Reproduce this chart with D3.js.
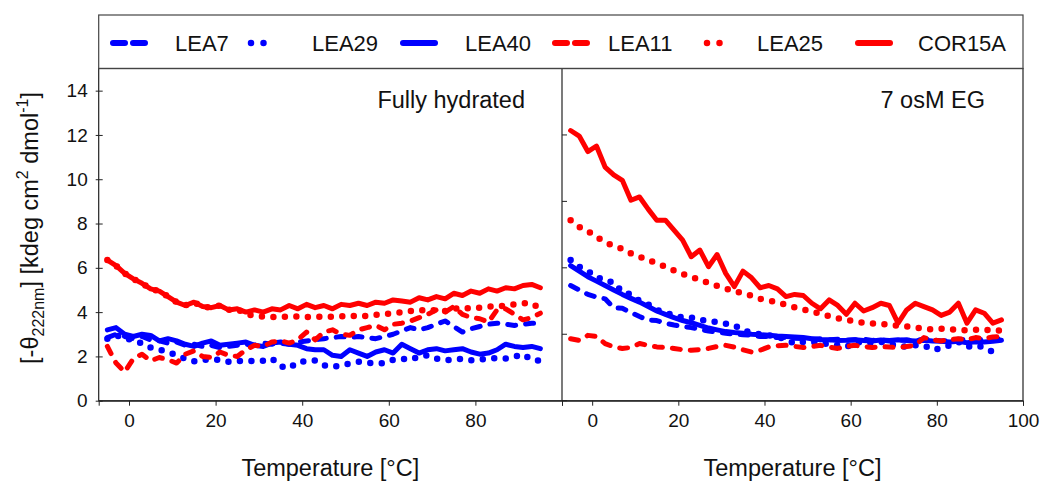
<!DOCTYPE html>
<html>
<head>
<meta charset="utf-8">
<script src="https://cdn.jsdelivr.net/npm/d3@7"></script>
<style>
  body { margin: 0; background: #fff; }
  svg { font-family: "Liberation Sans", Arial, sans-serif; }
</style>
</head>
<body>
<svg id="chart" width="1041" height="482"></svg>
<script>
// temperatures (°C), 2 degree steps
const temps = d3.range(-5, 96, 2);

// Fully hydrated panel
const hydLEA7 = [2.85,3.0,2.9,2.8,2.9,2.75,2.7,2.6,2.65,2.5,2.55,2.45,2.5,2.4,2.45,2.5,2.55,2.5,2.6,2.55,2.6,2.55,2.65,2.7,2.75,2.8,2.85,2.9,2.85,2.9,2.85,2.8,2.9,3.0,3.15,3.3,3.2,3.3,3.45,3.6,3.35,3.1,3.25,3.35,3.45,3.5,3.45,3.4,3.45,3.5,3.5];
const hydLEA29 = [2.8,2.95,2.85,2.7,2.6,2.4,2.3,2.2,2.05,1.9,1.78,1.85,1.86,1.85,1.76,1.79,1.8,1.79,1.8,1.9,1.55,1.46,1.75,1.78,1.82,1.6,1.53,1.6,1.68,1.76,1.72,1.68,1.7,1.85,1.9,1.85,2.0,2.05,1.9,1.83,1.85,1.9,1.83,1.85,1.9,1.92,1.9,1.98,2.1,1.85,1.8];
const hydLEA40 = [3.2,3.3,3.0,2.9,3.0,2.95,2.7,2.8,2.7,2.55,2.45,2.6,2.7,2.5,2.55,2.6,2.65,2.5,2.45,2.6,2.65,2.55,2.5,2.35,2.3,2.3,2.05,2.0,2.3,2.15,2.0,2.2,2.3,2.15,2.55,2.35,2.15,2.3,2.35,2.25,2.3,2.35,2.2,2.1,2.15,2.3,2.55,2.45,2.4,2.45,2.35];
const hydLEA11 = [2.45,1.7,1.3,1.9,2.1,1.8,1.95,1.85,1.7,2.1,2.25,2.0,1.95,2.2,2.05,2.0,2.3,2.5,2.45,2.65,2.7,2.6,2.75,3.1,2.75,3.1,3.2,3.0,2.95,3.2,3.3,3.4,3.2,3.45,3.5,3.6,3.75,3.9,4.1,4.0,4.25,3.9,3.75,3.7,3.55,4.1,4.15,3.9,3.65,3.75,3.95];
const hydLEA25 = [6.35,6.1,5.75,5.5,5.3,5.05,4.95,4.7,4.45,4.3,4.45,4.25,4.2,4.3,4.1,4.15,3.9,3.85,3.8,3.78,3.8,3.78,3.8,3.78,3.8,3.78,3.8,3.82,3.8,3.85,3.82,3.88,3.9,3.95,4.0,4.05,4.1,4.05,4.1,4.05,4.15,4.2,4.15,4.2,4.25,4.25,4.3,4.35,4.4,4.4,4.15];
const hydCOR15A = [6.35,6.1,5.75,5.5,5.3,5.05,4.95,4.7,4.45,4.3,4.45,4.25,4.2,4.3,4.1,4.15,4.0,4.1,4.0,4.15,4.1,4.3,4.15,4.35,4.2,4.3,4.15,4.35,4.3,4.4,4.3,4.45,4.4,4.55,4.5,4.45,4.65,4.55,4.7,4.6,4.85,4.75,4.95,4.85,5.05,4.95,5.1,5.05,5.2,5.25,5.1];

// 7 osM EG panel
const egLEA7 = [5.2,5.0,4.8,4.68,4.6,4.2,4.17,3.98,3.8,3.64,3.62,3.5,3.42,3.35,3.3,3.22,3.15,3.1,3.05,3.0,2.98,2.95,2.9,2.9,2.85,2.85,2.82,2.8,2.78,2.8,2.75,2.78,2.72,2.75,2.78,2.72,2.75,2.7,2.72,2.75,2.7,2.8,2.75,2.7,2.72,2.78,2.75,2.7,2.8,2.75,2.8];
const egLEA29 = [6.35,6.05,5.85,5.6,5.4,5.35,4.9,4.8,4.5,4.35,4.1,3.98,3.85,3.75,3.75,3.65,3.6,3.55,3.48,3.4,3.18,3.08,3.0,2.95,2.9,2.75,2.58,2.65,2.66,2.6,2.55,2.5,2.43,2.62,2.66,2.6,2.66,2.55,2.5,2.43,2.5,2.5,2.3,2.36,2.5,2.66,2.43,2.5,2.4,2.2,2.2];
const egLEA40 = [6.1,5.85,5.6,5.4,5.2,5.0,4.8,4.62,4.45,4.25,4.05,3.9,3.75,3.62,3.52,3.4,3.28,3.2,3.12,3.08,3.05,3.0,2.98,2.95,2.92,2.9,2.88,2.85,2.8,2.75,2.75,2.72,2.73,2.75,2.72,2.7,2.74,2.72,2.75,2.72,2.7,2.73,2.7,2.68,2.65,2.68,2.62,2.66,2.65,2.68,2.73];
const egLEA11 = [2.8,2.72,2.95,2.9,2.58,2.43,2.36,2.4,2.58,2.5,2.43,2.4,2.36,2.3,2.28,2.31,2.36,2.45,2.5,2.42,2.3,2.2,2.28,2.43,2.48,2.5,2.45,2.4,2.45,2.5,2.42,2.36,2.45,2.5,2.45,2.4,2.45,2.42,2.4,2.45,2.5,2.85,2.75,2.7,2.75,2.8,2.75,2.85,2.8,2.88,2.9];
const egLEA25 = [8.15,7.85,7.65,7.4,7.15,7.0,6.85,6.65,6.5,6.35,6.2,6.05,5.88,5.72,5.6,5.45,5.32,5.18,5.06,4.95,4.84,4.74,4.6,4.52,4.45,4.32,4.22,4.12,4.02,3.92,3.82,3.72,3.65,3.58,3.52,3.49,3.48,3.42,3.38,3.35,3.3,3.25,3.22,3.25,3.22,3.2,3.18,3.2,3.18,3.22,3.15];
const egCOR15A = [12.2,11.95,11.25,11.5,10.55,10.2,9.95,9.05,9.2,8.65,8.15,8.15,7.7,7.25,6.5,6.8,6.05,6.6,5.75,5.15,5.85,5.55,5.1,5.2,5.05,4.7,4.8,4.75,4.4,4.15,4.55,4.3,3.9,4.4,4.05,4.2,4.4,4.3,3.5,4.1,4.4,4.25,4.1,3.85,4.0,4.4,3.5,4.1,3.95,3.5,3.65];

const seriesNames = ["LEA7", "LEA29", "LEA40", "LEA11", "LEA25", "COR15A"];
const seriesColors = ["#0000ff", "#0000ff", "#0000ff", "#ff0000", "#ff0000", "#ff0000"];
const seriesStyles = ["dash", "dot", "solid", "dash", "dot", "solid"];
const panelTitles = ["Fully hydrated", "7 osM EG"];
const panelData = [
  [hydLEA7, hydLEA29, hydLEA40, hydLEA11, hydLEA25, hydCOR15A],
  [egLEA7, egLEA29, egLEA40, egLEA11, egLEA25, egCOR15A]
];
const leftYTicks = [0, 2, 4, 6, 8, 10, 12, 14];
const rightYTicks = [0, 3, 6, 9, 12, 15];
const leftXTicks = [0, 20, 40, 60, 80];
const rightXTicks = [0, 20, 40, 60, 80, 100];

const svg = d3.select("#chart");
const plotTop = 68.5, plotBottom = 400.7;
const panels = [[98.7, 562], [562, 1023]];
const axisColor = "#222";

const y = d3.scaleLinear().domain([0, 15]).range([plotBottom, plotTop]);

// dash patterns
function applyStyle(sel, style, color) {
  sel.attr("fill", "none").attr("stroke", color)
    .attr("stroke-linejoin", "round");
  if (style === "dot") {
    sel.attr("stroke-width", 6.5).attr("stroke-linecap", "round")
      .attr("stroke-dasharray", "0 11.5");
  } else if (style === "dash") {
    sel.attr("stroke-width", 5).attr("stroke-linecap", "round")
      .attr("stroke-dasharray", "8 10");
  } else {
    sel.attr("stroke-width", 5).attr("stroke-linecap", "round");
  }
  return sel;
}

panels.forEach(([x0, x1], p) => {
  const x = d3.scaleLinear().domain([-7, 100]).range([x0, x1]);
  const g = svg.append("g");

  // lines
  const line = d3.line()
    .x((d, i) => x(temps[i]))
    .y(d => y(d));
  panelData[p].forEach((vals, s) => {
    applyStyle(g.append("path").datum(vals).attr("d", line), seriesStyles[s], seriesColors[s]);
  });

  // x axis
  const xAxis = g.append("g")
    .attr("transform", `translate(0,${plotBottom})`)
    .call(d3.axisBottom(x).tickValues(p === 0 ? leftXTicks : rightXTicks).tickSizeOuter(0).tickSize(5).tickPadding(8));
  xAxis.select(".domain").attr("stroke", axisColor);
  xAxis.selectAll("line").attr("stroke", axisColor);
  xAxis.selectAll("text").style("font-size", "19px").attr("fill", "#111");

  // x title
  g.append("text")
    .attr("x", (x0 + x1) / 2)
    .attr("y", 476)
    .attr("text-anchor", "middle")
    .style("font-size", "23.5px")
    .attr("fill", "#111")
    .text("Temperature [°C]");

  // panel label
  g.append("text")
    .attr("x", p === 0 ? 525 : 985)
    .attr("y", 108)
    .attr("text-anchor", "end")
    .style("font-size", "23.5px")
    .attr("fill", "#111")
    .text(panelTitles[p]);

  // y ticks
  if (p === 0) {
    const yAxis = g.append("g")
      .attr("transform", `translate(${x0},0)`)
      .call(d3.axisLeft(y).tickValues(leftYTicks).tickSize(3).tickSizeOuter(0).tickPadding(8));
    yAxis.select(".domain").remove();
    yAxis.selectAll("line").attr("x2", 4).attr("x1", -3).attr("stroke", axisColor);
    yAxis.selectAll("text").style("font-size", "19px").attr("fill", "#111");
  } else {
    g.append("g").selectAll("line").data(rightYTicks).join("line")
      .attr("x1", x0).attr("x2", x0 + 5)
      .attr("y1", d => y(d)).attr("y2", d => y(d))
      .attr("stroke", axisColor);
  }
});

// frame
svg.append("rect")
  .attr("x", panels[0][0]).attr("y", plotTop)
  .attr("width", panels[1][1] - panels[0][0]).attr("height", plotBottom - plotTop)
  .attr("fill", "none").attr("stroke", axisColor).attr("stroke-width", 1.2);
svg.append("line")
  .attr("x1", panels[1][0]).attr("x2", panels[1][0])
  .attr("y1", plotTop).attr("y2", plotBottom)
  .attr("stroke", axisColor).attr("stroke-width", 1.2);

// legend box
svg.append("rect")
  .attr("x", panels[0][0]).attr("y", 15)
  .attr("width", panels[1][1] - panels[0][0]).attr("height", plotTop - 15)
  .attr("fill", "none").attr("stroke", "#444").attr("stroke-width", 1.2);

const legendSampleX = [110, 248, 400, 552, 704, 855];
const legendLabelX = [175, 312, 465, 608, 757, 918];
const legendY = 43;
seriesNames.forEach((name, i) => {
  const sx = legendSampleX[i];
  const sample = svg.append("line").attr("y1", legendY).attr("y2", legendY)
    .attr("stroke", seriesColors[i]).attr("stroke-linecap", "round");
  if (seriesStyles[i] === "dash") {
    sample.attr("x1", sx + 3).attr("x2", sx + 35).attr("stroke-width", 6).attr("stroke-dasharray", "12 8");
  } else if (seriesStyles[i] === "dot") {
    sample.attr("x1", sx + 3).attr("x2", sx + 28).attr("stroke-width", 6.5).attr("stroke-dasharray", "0 12.5");
  } else {
    sample.attr("x1", sx + 3).attr("x2", sx + 35).attr("stroke-width", 6);
  }
  svg.append("text")
    .attr("x", legendLabelX[i]).attr("y", legendY)
    .attr("dy", "0.36em")
    .style("font-size", "22px")
    .attr("fill", "#111")
    .text(name);
});

// y axis title
const yt = svg.append("text")
  .attr("transform", "translate(38,228) rotate(-90)")
  .attr("text-anchor", "middle")
  .style("font-size", "23.5px")
  .attr("fill", "#111");
yt.append("tspan").text("[-θ");
yt.append("tspan").attr("dy", 6).style("font-size", "16px").text("222nm");
yt.append("tspan").attr("dy", -6).text("] [kdeg cm");
yt.append("tspan").attr("dy", -10).style("font-size", "16px").text("2");
yt.append("tspan").attr("dy", 10).text(" dmol");
yt.append("tspan").attr("dy", -10).style("font-size", "16px").text("-1");
yt.append("tspan").attr("dy", 10).text("]");
</script>
</body>
</html>
